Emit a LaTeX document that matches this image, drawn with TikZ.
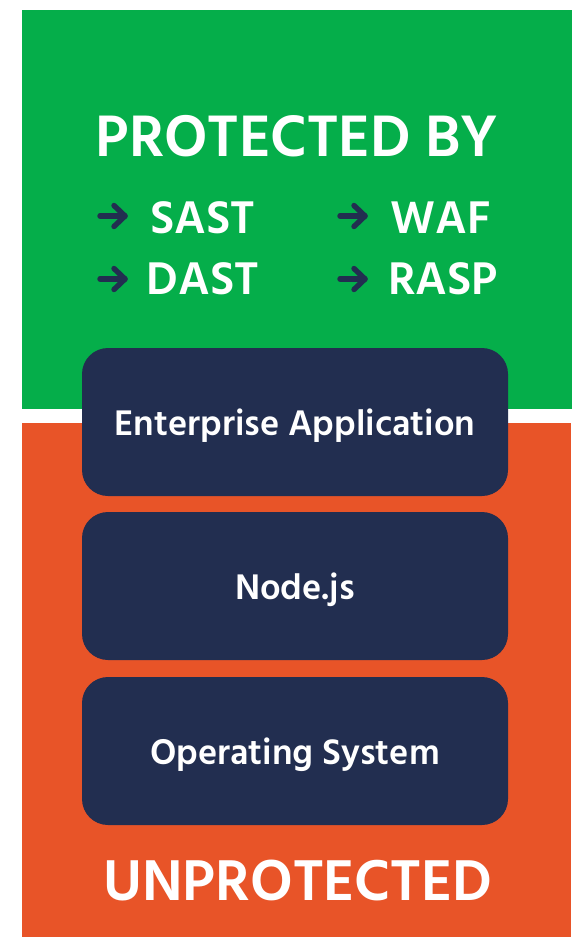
\documentclass[tikz,border=0pt]{standalone}
\usepackage{fontspec}
\setmainfont{Hind Siliguri}
\definecolor{protgreen}{HTML}{05AE4A}
\definecolor{unprotorange}{HTML}{E85428}
\definecolor{layernavy}{HTML}{222E50}
\begin{document}
\begin{tikzpicture}[x=1pt,y=-1pt,
	layer/.style={fill=layernavy,rounded corners=26pt,minimum width=426pt,minimum height=148pt,
		text=white,font=\fontsize{36.5}{40}\selectfont\bfseries,inner sep=0pt,text depth=0pt},
	title/.style={text=white,font=\fontsize{60}{64}\selectfont\bfseries,inner sep=0pt},
	item/.style={text=white,font=\fontsize{47}{50}\selectfont\bfseries,inner sep=0pt},
	listarrow/.style={draw=layernavy,line width=5.4pt,line cap=round,line join=round}]
	\useasboundingbox (0,0) rectangle (588,948);
	%backgrounds
	\fill[protgreen] (22,10) rectangle (572,409); %protected zone
	\fill[unprotorange] (22,423) rectangle (571,937); %unprotected zone

	%labels
	\node[title] (protected) at (297,136) {PROTECTED BY};
	\node[title,font=\fontsize{59}{64}\selectfont\bfseries] (unprotected) at (298,881) {UNPROTECTED};

	%tools
	\node[item] (sast) at (203,218) {SAST};
	\node[item] (dast) at (203,279) {DAST};
	\node[item] (waf) at (441,218) {WAF};
	\node[item] (rasp) at (443,279) {RASP};

	%arrows
	\foreach \ax/\ay in {100/216,100/279,340/216,340/279}{
		\draw[listarrow] (\ax,\ay) -- ++(25,0);
		\draw[listarrow] (\ax+14,\ay-10.5) -- ++(11,10.5) -- ++(-11,10.5);
	}

	%stack
	\node[layer] (app) at (295,422) {Enterprise Application};
	\node[layer] (node) at (295,586) {Node.js};
	\node[layer] (os) at (295,751) {Operating System};
\end{tikzpicture}
\end{document}
